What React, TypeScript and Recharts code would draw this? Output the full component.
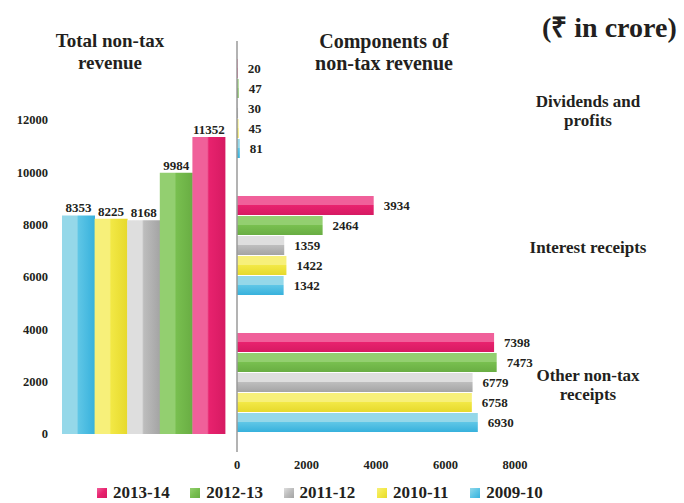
import { BarChart, Bar, XAxis, YAxis, LabelList, Cell } from 'recharts';

// Left panel: total non-tax revenue by year
const YEARS = ['2009-10', '2010-11', '2011-12', '2012-13', '2013-14'];
const TOTALS = [8353, 8225, 8168, 9984, 11352];
const TOTAL_TICKS = [0, 2000, 4000, 6000, 8000, 10000, 12000];

// Right panel: components of non-tax revenue
const COMPONENTS = ['Dividends and profits', 'Interest receipts', 'Other non-tax receipts'];
const COMPONENT_LINES = [['Dividends and', 'profits'], ['Interest receipts'], ['Other non-tax', 'receipts']];
const V_2013_14 = [20, 3934, 7398];
const V_2012_13 = [47, 2464, 7473];
const V_2011_12 = [30, 1359, 6779];
const V_2010_11 = [45, 1422, 6758];
const V_2009_10 = [81, 1342, 6930];
const COMPONENT_TICKS = [0, 2000, 4000, 6000, 8000];

// series order top -> bottom in each group, also legend order
const SERIES = ['2013-14', '2012-13', '2011-12', '2010-11', '2009-10'];
const SERIES_VALUES = [V_2013_14, V_2012_13, V_2011_12, V_2010_11, V_2009_10];

const SHADES: Record<string, [string, string, string]> = {
  '2013-14': ['#f0609a', '#e8226e', '#d61a62'],
  '2012-13': ['#93cf70', '#78bf4f', '#69ad43'],
  '2011-12': ['#dedede', '#bdbdbd', '#a4a4a4'],
  '2010-11': ['#f7f07a', '#f2e845', '#e6d92c'],
  '2009-10': ['#95d8e9', '#5ec6e6', '#37b1dc'],
};

const FONT = '"Liberation Serif", "Times New Roman", serif';
const TEXT = '#231f20';

const totalData = YEARS.map((year, i) => ({ year, total: TOTALS[i] }));
const componentData = COMPONENTS.map((name, i) => {
  const row: Record<string, string | number> = { name };
  SERIES.forEach((s, j) => {
    row[s] = SERIES_VALUES[j][i];
  });
  return row;
});

const gid = (s: string, dir: string) => `${dir}-${s.replace('-', '_')}`;

function Gradients({ dir }: { dir: 'v' | 'h' }) {
  return (
    <defs>
      {SERIES.map((s) => {
        const [light, base, dark] = SHADES[s];
        return (
          <linearGradient
            key={s}
            id={gid(s, dir)}
            x1="0"
            y1="0"
            x2={dir === 'v' ? '1' : '0'}
            y2={dir === 'v' ? '0' : '1'}
          >
            <stop offset="0%" stopColor={light} />
            <stop offset="45%" stopColor={light} />
            <stop offset="50%" stopColor={base} />
            <stop offset="100%" stopColor={dark} />
          </linearGradient>
        );
      })}
    </defs>
  );
}

// group names sit on the right of the bars
function CategoryTick(props: any) {
  const { y, payload } = props;
  const idx = COMPONENTS.indexOf(payload.value);
  const lines = COMPONENT_LINES[idx] || [String(payload.value)];
  const startY = y + 1 - ((lines.length - 1) * 19) / 2;
  return (
    <g>
      {lines.map((l, i) => (
        <text key={i} x={588} y={startY + i * 19} dy="0.35em" textAnchor="middle"
          style={{ fontFamily: FONT, fontWeight: 700, fontSize: 17, fill: TEXT }}>
          {l}
        </text>
      ))}
    </g>
  );
}

const tickStyle = { fontFamily: FONT, fontWeight: 700, fontSize: 12.5, fill: TEXT };
const labelStyle = { fontFamily: FONT, fontWeight: 700, fontSize: 13, fill: TEXT };

export default function App() {
  return (
    <div style={{ position: 'absolute', left: 0, top: 0, width: 684, height: 503, background: '#fff', fontFamily: FONT, color: TEXT }}>
      <div style={{ position: 'absolute', left: 10, top: 30, width: 200, textAlign: 'center', fontSize: 19, lineHeight: '22px', fontWeight: 700 }}>
        Total non-tax<br />revenue
      </div>
      <div style={{ position: 'absolute', left: 279, top: 30, width: 210, textAlign: 'center', fontSize: 20, lineHeight: '22px', fontWeight: 700 }}>
        Components of<br />non-tax revenue
      </div>
      <div style={{ position: 'absolute', left: 542, top: 12, fontSize: 28, lineHeight: '32px', fontWeight: 700, whiteSpace: 'nowrap' }}>
        (₹ in crore)
      </div>

      <div style={{ position: 'absolute', left: 0, top: 0 }}>
        <BarChart width={240} height={503} data={totalData} margin={{ top: 120, right: 15, left: 0, bottom: 69 }} barCategoryGap={0}>
          <Gradients dir="v" />
          <XAxis dataKey="year" hide />
          <YAxis type="number" domain={[0, 12000]} ticks={TOTAL_TICKS} width={62} axisLine={false} tickLine={false}
            tickSize={6} tickMargin={8} tick={tickStyle} interval={0} />
          <Bar dataKey="total" isAnimationActive={false}>
            {totalData.map((d) => (
              <Cell key={d.year} fill={`url(#${gid(d.year, 'v')})`} />
            ))}
            <LabelList dataKey="total" position="top" offset={3} style={labelStyle} />
          </Bar>
        </BarChart>
      </div>

      <div style={{ position: 'absolute', left: 0, top: 0 }}>
        <BarChart width={684} height={503} data={componentData} layout="vertical"
          margin={{ top: 41, right: 169, left: 236, bottom: 21 }} barCategoryGap={18} barGap={1}>
          <Gradients dir="h" />
          <XAxis type="number" domain={[0, 8000]} ticks={COMPONENT_TICKS} height={30} axisLine={false} tickLine={false}
            tickSize={4} tickMargin={4} tick={tickStyle} interval={0} />
          <YAxis type="category" dataKey="name" width={1} axisLine={{ stroke: '#9a9a9a', strokeWidth: 1.5 }} tickLine={false}
            tick={(p: any) => <CategoryTick {...p} />} interval={0} />
          {SERIES.map((s) => (
            <Bar key={s} dataKey={s} fill={`url(#${gid(s, 'h')})`} isAnimationActive={false}>
              <LabelList dataKey={s} position="right" offset={10} style={labelStyle} />
            </Bar>
          ))}
        </BarChart>
      </div>

      <div style={{ position: 'absolute', left: 97, top: 484, display: 'flex', fontSize: 17, lineHeight: '18px', fontWeight: 700 }}>
        {SERIES.map((s) => {
          const [light, base, dark] = SHADES[s];
          return (
            <div key={s} style={{ width: 93.3, display: 'flex', alignItems: 'center' }}>
              <span style={{ display: 'inline-block', width: 10, height: 10, marginRight: 6,
                background: `linear-gradient(135deg, ${light} 0%, ${base} 50%, ${dark} 100%)` }} />
              {s}
            </div>
          );
        })}
      </div>
    </div>
  );
}
